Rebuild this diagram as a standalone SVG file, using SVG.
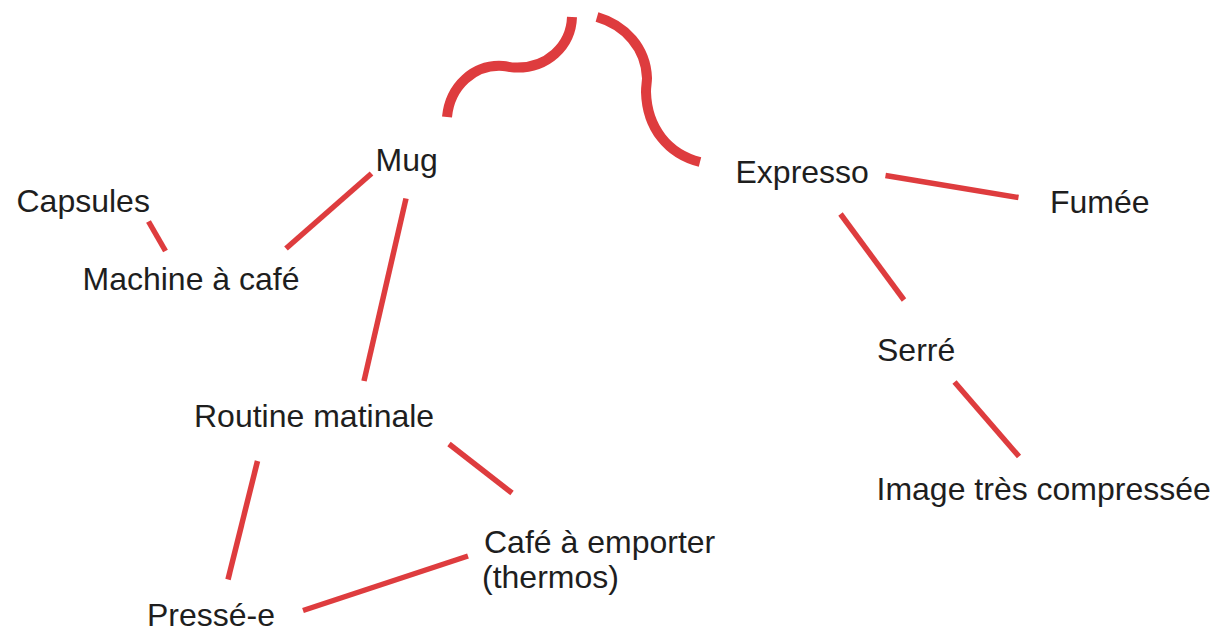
<svg xmlns="http://www.w3.org/2000/svg" width="1219" height="635" viewBox="0 0 1219 635">
<style>
  .bg { fill: #ffffff; }
  .lbl { font-family: "Liberation Sans", Arial, Helvetica, sans-serif; font-size: 32px; fill: #1e1e1e; }
  .edge { stroke: #de3c3e; stroke-width: 5.5; stroke-linecap: butt; fill: none; }
  .wave { stroke: #de3c3e; stroke-width: 10; stroke-linecap: butt; fill: none; }
</style>
<rect class="bg" x="0" y="0" width="1219" height="635"/>
<g id="connectors">
  <path class="wave" d="M447,117 C450,86 474,64 503,66 C508,66.5 511,67.5 514,67.5 C547,69 571,46 572,17"/>
  <path class="wave" d="M597,17 C625,25 646,48 647,78 C647,82 646,86 646,92 C647,128 668,154 700,162"/>
  <line class="edge" x1="148.5" y1="221.5" x2="165.5" y2="251"/>
  <line class="edge" x1="371.5" y1="173.5" x2="286" y2="248.5"/>
  <line class="edge" x1="406" y1="198.5" x2="364" y2="381"/>
  <line class="edge" x1="449" y1="444" x2="512" y2="493"/>
  <line class="edge" x1="257.5" y1="461" x2="228" y2="579.5"/>
  <line class="edge" x1="303" y1="610.5" x2="468" y2="556"/>
  <line class="edge" x1="885.5" y1="175.5" x2="1018.5" y2="197.5"/>
  <line class="edge" x1="840.5" y1="214" x2="904" y2="300"/>
  <line class="edge" x1="954.5" y1="382" x2="1019" y2="456.5"/>
</g>
<g id="node-mug"><text class="lbl" x="375.5" y="171">Mug</text></g>
<g id="node-capsules"><text class="lbl" x="16.5" y="212">Capsules</text></g>
<g id="node-machine"><text class="lbl" x="82.5" y="290">Machine à café</text></g>
<g id="node-routine"><text class="lbl" x="194" y="427">Routine matinale</text></g>
<g id="node-presse"><text class="lbl" x="147" y="626">Pressé-e</text></g>
<g id="node-cafe-emporter"><text class="lbl" x="484" y="553"><tspan x="484">Café à emporter</tspan><tspan x="482" y="588">(thermos)</tspan></text></g>
<g id="node-expresso"><text class="lbl" x="735.5" y="183">Expresso</text></g>
<g id="node-fumee"><text class="lbl" x="1050" y="213">Fumée</text></g>
<g id="node-serre"><text class="lbl" x="877" y="361">Serré</text></g>
<g id="node-image"><text class="lbl" x="876.5" y="500">Image très compressée</text></g>
</svg>
